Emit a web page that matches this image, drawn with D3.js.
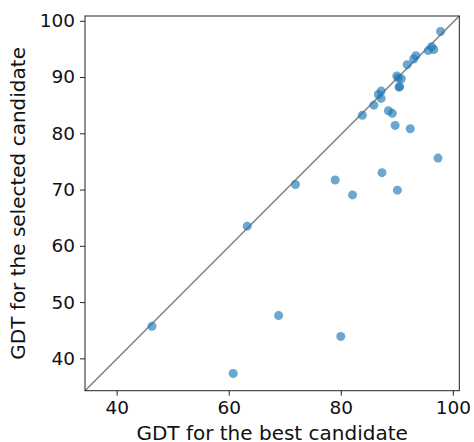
<!DOCTYPE html>
<html>
<head>
<meta charset="utf-8">
<script src="https://cdn.jsdelivr.net/npm/d3@7"></script>
<style>
	body { margin: 0; background: #fff; }
	text { font-family: "DejaVu Sans", sans-serif; fill: #111; }
	.tick text { font-size: 18.5px; }
	.label { font-size: 20px; }
</style>
</head>
<body>
<svg id="chart"></svg>
<script>
//GDT of best candidate vs. GDT of the candidate the ranker selected.
const bestGdt = [97.8, 96.2, 95.6, 96.6, 93.4, 93.0, 91.85, 90.0, 90.25, 90.8, 90.4, 90.5,
	87.2, 86.7, 87.2, 85.9, 83.85, 88.5, 89.2, 89.7, 92.4,
	97.35, 71.9, 63.3, 79.0, 82.1, 87.35, 90.1,
	46.3, 68.9, 80.0, 60.8];
const selectedGdt = [98.1, 95.4, 94.7, 94.9, 93.8, 93.2, 92.2, 90.2, 89.8, 89.7, 88.2, 88.3,
	87.5, 86.9, 86.2, 85.0, 83.2, 84.0, 83.55, 81.4, 80.8,
	75.6, 70.9, 63.5, 71.7, 69.05, 73.0, 69.9,
	45.7, 47.6, 43.9, 37.3];
const xTicks = [40, 60, 80, 100];
const yTicks = [40, 50, 60, 70, 80, 90, 100];
const xLims = [34.35, 101.15];
const yLims = [34.25, 100.85];

const width = 474, height = 442;
const margin = {top: 16, right: 14.7, bottom: 51.3, left: 85};
const innerWidth = width - margin.left - margin.right;
const innerHeight = height - margin.top - margin.bottom;

const svg = d3.select('#chart')
	.attr('width', width)
	.attr('height', height);
const g = svg.append('g')
	.attr('transform', `translate(${margin.left}, ${margin.top})`);

const x = d3.scaleLinear().domain(xLims).range([0, innerWidth]);
const y = d3.scaleLinear().domain(yLims).range([innerHeight, 0]);

//Diagonal y = x, corner to corner.
g.append('line')
	.attr('x1', 0).attr('y1', innerHeight)
	.attr('x2', innerWidth).attr('y2', 0)
	.style('stroke', '#808080')
	.style('stroke-width', 1.5);

const points = bestGdt.map((b, i) => ({b: b, s: selectedGdt[i]}));
g.selectAll('circle')
	.data(points)
	.join('circle')
	.attr('cx', d => x(d.b))
	.attr('cy', d => y(d.s))
	.attr('r', 4.5)
	.style('fill', '#1f77b4')
	.style('fill-opacity', 0.65);

//Axes.
const xAxis = g.append('g')
	.attr('transform', `translate(0, ${innerHeight})`)
	.call(d3.axisBottom(x).tickValues(xTicks).tickSize(5).tickPadding(5));
const yAxis = g.append('g')
	.call(d3.axisLeft(y).tickValues(yTicks).tickSize(5).tickPadding(5));
[xAxis, yAxis].forEach(a => {
	a.select('.domain').remove();
	a.selectAll('.tick line').style('stroke', '#222');
});

//Frame.
g.append('rect')
	.attr('width', innerWidth)
	.attr('height', innerHeight)
	.style('fill', 'none')
	.style('stroke', '#222')
	.style('stroke-width', 1);

//Labels.
g.append('text')
	.attr('class', 'label')
	.text('GDT for the best candidate')
	.attr('x', innerWidth / 2)
	.attr('y', innerHeight + 49)
	.attr('text-anchor', 'middle');
g.append('text')
	.attr('class', 'label')
	.text('GDT for the selected candidate')
	.attr('transform', `translate(${-60}, ${innerHeight / 2}) rotate(-90)`)
	.attr('text-anchor', 'middle');
</script>
</body>
</html>
